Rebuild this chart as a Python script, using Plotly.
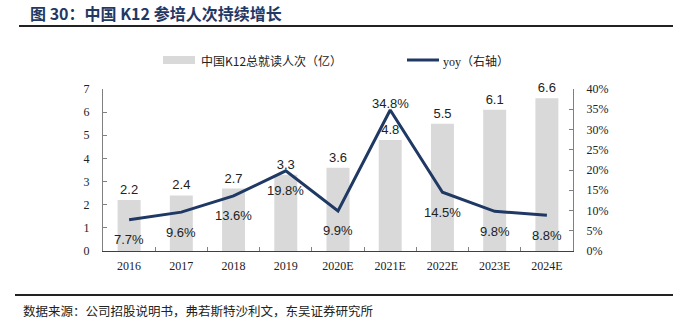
import plotly.graph_objects as go

categories = ["2016", "2017", "2018", "2019", "2020E", "2021E", "2022E", "2023E", "2024E"]
enrollments = [2.2, 2.4, 2.7, 3.3, 3.6, 4.8, 5.5, 6.1, 6.6]
yoy = [7.7, 9.6, 13.6, 19.8, 9.9, 34.8, 14.5, 9.8, 8.8]
yoy_label_shift = [-20, -20, -20, -20, -20, 7, -20, -20, -20]
left_ticks = [0, 1, 2, 3, 4, 5, 6, 7]
right_ticks = [0, 5, 10, 15, 20, 25, 30, 35, 40]

W, H = 673, 322
L, R, T, B = 103, 100, 89, 71
PW, PH = W - L - R, H - T - B


def px(x):
    return (x - L) / PW


def py(y):
    return (H - B - y) / PH


NAVY = "#1f3864"
BAR = "#d9d9d9"
serif = "Liberation Serif, Times New Roman, serif"
cjk = "Noto Sans CJK SC"

fig = go.Figure()
fig.add_trace(go.Bar(
    x=categories, y=enrollments, name="中国K12总就读人次（亿）",
    marker=dict(color=BAR, line=dict(width=0)), width=0.44,
    text=[f"{v}" for v in enrollments], textposition="outside",
    textfont=dict(family="Liberation Sans, Arial", size=13, color="#222"),
    cliponaxis=False, showlegend=False,
))
fig.add_trace(go.Scatter(
    x=categories, y=yoy, yaxis="y2", mode="lines", name="yoy（右轴）",
    line=dict(color=NAVY, width=3), showlegend=False,
))

annotations = []
for i, (v, s) in enumerate(zip(yoy, yoy_label_shift)):
    annotations.append(dict(
        x=i, y=v, xref="x", yref="y2", text=f"{v}%", showarrow=False,
        yshift=s, font=dict(family="Liberation Sans, Arial", size=13, color="#222"),
    ))

# title
annotations.append(dict(
    x=px(28), y=py(13), xref="paper", yref="paper", xanchor="left", yanchor="middle",
    text="<b>图 30：中国 K12 参培人次持续增长</b>", showarrow=False,
    font=dict(family=cjk, size=16, color=NAVY),
))
# source
annotations.append(dict(
    x=px(21), y=py(310), xref="paper", yref="paper", xanchor="left", yanchor="middle",
    text="数据来源：公司招股说明书，弗若斯特沙利文，东吴证券研究所", showarrow=False,
    font=dict(family=cjk, size=12.5, color="#222"),
))
# legend texts
annotations.append(dict(
    x=px(199), y=py(60), xref="paper", yref="paper", xanchor="left", yanchor="middle",
    text="中国K12总就读人次（亿）", showarrow=False,
    font=dict(family=cjk, size=12, color="#222"),
))
annotations.append(dict(
    x=px(441), y=py(60), xref="paper", yref="paper", xanchor="left", yanchor="middle",
    text="<span style='font-family:Liberation Serif'>yoy</span>（右轴）", showarrow=False,
    font=dict(family=cjk, size=12, color="#222"),
))

shapes = [
    dict(type="line", xref="paper", yref="paper", x0=px(19), x1=px(673), y0=py(26), y1=py(26),
         line=dict(color="#222", width=2)),
    dict(type="line", xref="paper", yref="paper", x0=px(15), x1=px(673), y0=py(295), y1=py(295),
         line=dict(color="#222", width=2)),
    dict(type="rect", xref="paper", yref="paper", x0=px(163), x1=px(195), y0=py(64), y1=py(56),
         fillcolor=BAR, line=dict(width=0)),
    dict(type="line", xref="paper", yref="paper", x0=px(407), x1=px(439), y0=py(60), y1=py(60),
         line=dict(color=NAVY, width=3)),
]

fig.update_layout(
    width=W, height=H,
    margin=dict(l=L, r=R, t=T, b=B, pad=0),
    paper_bgcolor="white", plot_bgcolor="white",
    showlegend=False,
    annotations=annotations, shapes=shapes,
    xaxis=dict(
        type="category", range=[-0.5, len(categories) - 0.5], showgrid=False,
        showline=True, linecolor="#404040", linewidth=1,
        ticks="inside", ticklen=4, tickcolor="#808080", tickson="boundaries",
        tickfont=dict(family=serif, size=12, color="#222"), ticklabelstandoff=4,
        tickangle=0,
    ),
    yaxis=dict(
        range=[0, 7], tickvals=left_ticks, showgrid=False, zeroline=False,
        showline=True, linecolor="#808080", linewidth=1, ticks="inside", ticklen=4,
        tickcolor="#808080", tickfont=dict(family=serif, size=12, color="#222"),
        ticklabelstandoff=10,
    ),
    yaxis2=dict(
        range=[0, 40], tickvals=right_ticks, ticktext=[f"{v}%" for v in right_ticks],
        overlaying="y", side="right", showgrid=False, zeroline=False,
        showline=True, linecolor="#808080", linewidth=1, ticks="inside", ticklen=4,
        tickcolor="#808080", tickfont=dict(family=serif, size=12, color="#222"),
        ticklabelstandoff=10,
    ),
)

fig.write_html("out.html")
